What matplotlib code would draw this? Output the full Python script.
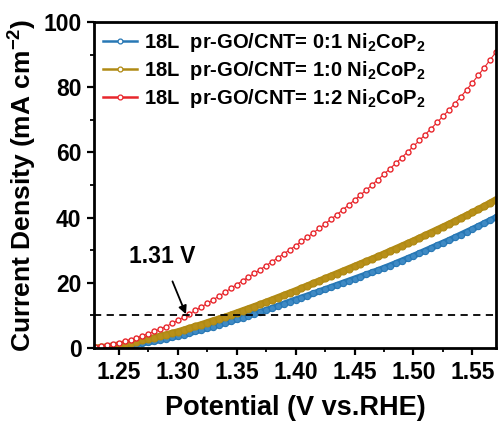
import numpy as np
import matplotlib
matplotlib.use('Agg')
import matplotlib.pyplot as plt
from matplotlib.ticker import MultipleLocator
from matplotlib.lines import Line2D

plt.rcParams['font.family'] = ['Liberation Sans', 'DejaVu Sans']
plt.rcParams['font.weight'] = 'bold'
plt.rcParams['mathtext.fontset'] = 'custom'
plt.rcParams['mathtext.rm'] = 'Liberation Sans:bold'
plt.rcParams['mathtext.bf'] = 'Liberation Sans:bold'
plt.rcParams['mathtext.default'] = 'bf'

# potential (V vs. RHE), 5 mV steps
potential = [1.230, 1.235, 1.240, 1.245, 1.250, 1.255, 1.260, 1.265, 1.270, 1.275,
             1.280, 1.285, 1.290, 1.295, 1.300, 1.305, 1.310, 1.315, 1.320, 1.325,
             1.330, 1.335, 1.340, 1.345, 1.350, 1.355, 1.360, 1.365, 1.370, 1.375,
             1.380, 1.385, 1.390, 1.395, 1.400, 1.405, 1.410, 1.415, 1.420, 1.425,
             1.430, 1.435, 1.440, 1.445, 1.450, 1.455, 1.460, 1.465, 1.470, 1.475,
             1.480, 1.485, 1.490, 1.495, 1.500, 1.505, 1.510, 1.515, 1.520, 1.525,
             1.530, 1.535, 1.540, 1.545, 1.550, 1.555, 1.560, 1.565, 1.570]

cnt_only = [0.0, 0.1, 0.2, 0.35, 0.5, 0.7, 0.9, 1.2, 1.5, 1.8,
            2.1, 2.5, 2.9, 3.3, 3.7, 4.15, 4.6, 5.1, 5.6, 6.1,
            6.6, 7.15, 7.7, 8.25, 8.8, 9.35, 9.9, 10.5, 11.1, 11.7,
            12.3, 12.95, 13.6, 14.25, 14.9, 15.5, 16.1, 16.75, 17.4, 18.05,
            18.7, 19.35, 20.0, 20.65, 21.3, 21.95, 22.6, 23.25, 23.9, 24.6,
            25.3, 26.05, 26.8, 27.55, 28.3, 29.1, 29.9, 30.7, 31.5, 32.3,
            33.1, 33.95, 34.8, 35.65, 36.5, 37.4, 38.3, 39.2, 40.1]

go_only = [0.0, 0.2, 0.4, 0.7, 1.0, 1.3, 1.6, 2.0, 2.4, 2.8,
           3.2, 3.65, 4.1, 4.55, 5.0, 5.55, 6.1, 6.65, 7.2, 7.8,
           8.4, 8.95, 9.5, 10.15, 10.8, 11.45, 12.1, 12.75, 13.4, 14.1,
           14.8, 15.5, 16.2, 16.9, 17.6, 18.35, 19.1, 19.85, 20.6, 21.35,
           22.1, 22.85, 23.6, 24.35, 25.1, 25.85, 26.6, 27.35, 28.1, 28.9,
           29.7, 30.5, 31.3, 32.1, 32.9, 33.75, 34.6, 35.45, 36.3, 37.15,
           38.0, 38.9, 39.8, 40.7, 41.6, 42.55, 43.5, 44.5, 45.5]

go_cnt_12 = [0.3, 0.55, 0.8, 1.2, 1.6, 2.1, 2.6, 3.2, 3.8, 4.45,
             5.1, 5.85, 6.6, 7.55, 8.5, 9.5, 10.5, 11.55, 12.6, 13.7,
             14.8, 15.95, 17.1, 18.3, 19.5, 20.65, 21.8, 22.95, 24.1, 25.3,
             26.5, 27.7, 28.9, 30.15, 31.4, 32.7, 34.0, 35.35, 36.7, 38.1,
             39.5, 40.95, 42.4, 43.9, 45.4, 46.95, 48.5, 50.1, 51.7, 53.35,
             55.0, 56.7, 58.4, 60.15, 61.9, 63.7, 65.5, 67.35, 69.2, 71.1,
             73.0, 75.0, 77.0, 79.2, 81.4, 83.7, 86.0, 88.4, 90.8]

labels = [r'18L  pr-GO/CNT= 0:1 Ni$_2$CoP$_2$',
          r'18L  pr-GO/CNT= 1:0 Ni$_2$CoP$_2$',
          r'18L  pr-GO/CNT= 1:2 Ni$_2$CoP$_2$']
colors = ['#2878B5', '#B08A14', '#E8262C']
fills = ['#3F8AC4', '#B8901A', 'white']

fig = plt.figure(figsize=(5.0, 4.24), dpi=100)
ax = fig.add_axes([0.188, 0.179, 0.804, 0.769])

# blue and gold: dense markers that merge into a thick band
ax.plot(potential, cnt_only, color=colors[0], lw=4.5, marker='o', ms=4.5,
        mfc=fills[0], mec=colors[0], mew=0.8)
ax.plot(potential, go_only, color=colors[1], lw=5, marker='o', ms=5,
        mfc=fills[1], mec=colors[1], mew=0.8)
# red: thin line with open circles
ax.plot(potential, go_cnt_12, color=colors[2], lw=0.8, marker='o', ms=3.6,
        mfc='white', mec=colors[2], mew=1.0)

ax.axhline(10, color='black', lw=1.3, ls=(0, (4, 3)))

ax.annotate('1.31 V', xy=(1.307, 10.4), xytext=(1.287, 28.0),
            fontsize=16.5, fontweight='bold', ha='center', va='center',
            arrowprops=dict(arrowstyle='-|>', color='black', lw=1.3,
                            shrinkA=8, shrinkB=0, mutation_scale=12))

ax.set_xlim(1.229, 1.570)
ax.set_ylim(0, 100)
ax.xaxis.set_major_locator(MultipleLocator(0.05))
ax.xaxis.set_minor_locator(MultipleLocator(0.025))
ax.yaxis.set_major_locator(MultipleLocator(20))
ax.yaxis.set_minor_locator(MultipleLocator(10))
ax.xaxis.set_major_formatter(plt.FuncFormatter(lambda v, p: f'{v:.2f}'))

ax.tick_params(which='major', direction='out', length=5, width=1.6, labelsize=16.5, pad=4)
ax.tick_params(which='minor', direction='out', length=3, width=1.3)
for sp in ax.spines.values():
    sp.set_linewidth(2)

ax.set_xlabel('Potential (V vs.RHE)', fontsize=19.5, fontweight='bold', labelpad=8)
ax.set_ylabel(r'Current Density (mA cm$^{-2}$)', fontsize=19, fontweight='bold', labelpad=3)

handles = [Line2D([], [], color=c, lw=1.8, marker='o', ms=3.5, mfc='white', mec=c, mew=0.9)
           for c in colors]
ax.legend(handles, labels, loc='upper left', fontsize=14.5, frameon=False, handlelength=1.7,
          handletextpad=0.35, labelspacing=0.25, borderaxespad=0.15, borderpad=0.3)

fig.savefig('out.png', dpi=100)
